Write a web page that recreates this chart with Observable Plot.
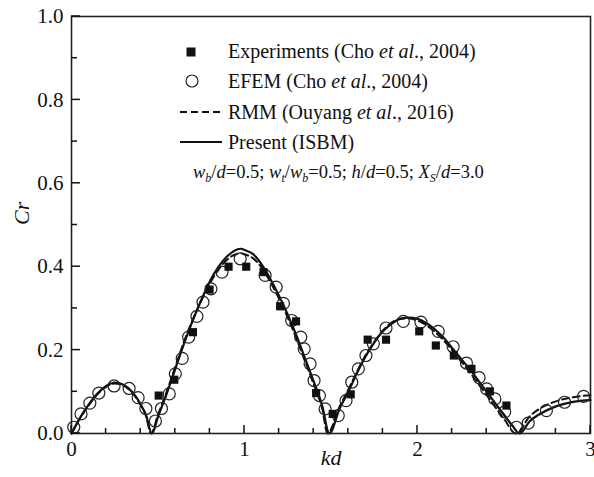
<!DOCTYPE html>
<html><head><meta charset="utf-8">
<script src="https://cdn.jsdelivr.net/npm/d3@7"></script>
<script src="https://cdn.jsdelivr.net/npm/@observablehq/plot@0.6"></script>
<style>
body{margin:0;background:#fff;}
#wrap{position:relative;width:594px;height:477px;font-family:"Liberation Serif","Times New Roman",serif;color:#111;overflow:hidden;}
#legend{position:absolute;left:0;top:0;width:594px;height:477px;pointer-events:none;}
.lt{position:absolute;font-size:20px;line-height:20px;white-space:nowrap;}
.lp{font-size:18.5px;}
.lt sub{font-size:12px;vertical-align:-4px;line-height:0;}
</style>
</head><body>
<div id="wrap"></div>
<script>
// ---- data ----
const efemKd = [0.013,0.055,0.106,0.158,0.246,0.333,0.385,0.43,0.485,0.52,0.565,0.60,0.64,0.677,0.725,0.76,0.806,0.87,0.975,1.119,1.183,1.225,1.273,1.325,1.345,1.379,1.402,1.433,1.466,1.542,1.587,1.62,1.658,1.702,1.745,1.818,1.918,2.02,2.12,2.206,2.283,2.356,2.40,2.447,2.504,2.572,2.64,2.745,2.85,2.96];
const efemCr = [0.015,0.047,0.073,0.097,0.114,0.108,0.086,0.060,0.030,0.060,0.095,0.143,0.180,0.231,0.281,0.315,0.347,0.387,0.419,0.379,0.351,0.312,0.271,0.231,0.203,0.167,0.127,0.091,0.059,0.043,0.079,0.123,0.155,0.187,0.215,0.253,0.269,0.267,0.245,0.208,0.169,0.134,0.107,0.083,0.052,0.015,0.025,0.055,0.075,0.089];
const expKd = [0.504,0.594,0.702,0.798,0.908,1.01,1.11,1.206,1.298,1.414,1.51,1.614,1.712,1.818,2.01,2.106,2.21,2.312,2.418,2.514];
const expCr = [0.091,0.129,0.243,0.345,0.400,0.400,0.387,0.305,0.269,0.097,0.047,0.094,0.225,0.225,0.245,0.211,0.187,0.155,0.101,0.067];
const isbmKd = [0,0.05,0.1,0.15,0.2,0.25,0.3,0.35,0.4,0.43,0.465,0.5,0.55,0.6,0.65,0.7,0.75,0.8,0.85,0.9,0.95,0.98,1.0,1.05,1.1,1.15,1.2,1.25,1.3,1.35,1.4,1.45,1.49,1.55,1.6,1.65,1.7,1.75,1.8,1.85,1.9,1.95,2.0,2.05,2.1,2.15,2.2,2.25,2.3,2.35,2.4,2.45,2.5,2.55,2.59,2.65,2.7,2.8,2.9,3.0];
const isbmCr = [0,0.038,0.07,0.096,0.114,0.122,0.117,0.1,0.07,0.045,0,0.04,0.095,0.155,0.215,0.27,0.32,0.365,0.4,0.425,0.44,0.443,0.44,0.43,0.405,0.37,0.33,0.285,0.235,0.18,0.125,0.065,0,0.06,0.1,0.145,0.185,0.218,0.245,0.263,0.275,0.278,0.275,0.265,0.25,0.23,0.205,0.18,0.155,0.128,0.1,0.072,0.045,0.018,0,0.03,0.045,0.065,0.076,0.08];
const rmmKd = [0,0.05,0.1,0.15,0.2,0.25,0.3,0.35,0.4,0.43,0.46,0.5,0.55,0.6,0.65,0.7,0.75,0.8,0.85,0.9,0.95,0.98,1.0,1.05,1.1,1.15,1.2,1.25,1.3,1.35,1.4,1.45,1.48,1.55,1.6,1.65,1.7,1.75,1.8,1.85,1.9,1.95,2.0,2.05,2.1,2.15,2.2,2.25,2.3,2.35,2.4,2.45,2.5,2.57,2.65,2.7,2.8,2.9,3.0];
const rmmCr = [0,0.037,0.068,0.094,0.112,0.12,0.115,0.098,0.068,0.043,0,0.045,0.1,0.16,0.22,0.272,0.318,0.36,0.393,0.417,0.43,0.432,0.43,0.42,0.397,0.363,0.323,0.278,0.228,0.173,0.118,0.058,0,0.065,0.105,0.148,0.188,0.22,0.247,0.266,0.275,0.276,0.271,0.26,0.244,0.224,0.2,0.174,0.148,0.12,0.092,0.063,0.035,0,0.042,0.058,0.077,0.087,0.092];
const xMajorTicks = [0,1,2,3];
const xMinorTicks = [0.2,0.4,0.6,0.8,1.2,1.4,1.6,1.8,2.2,2.4,2.6,2.8];
const yMajorTicks = [0,0.2,0.4,0.6,0.8,1.0];
const yMinorTicks = [0.1,0.3,0.5,0.7,0.9];
const xLabel = "kd", yLabel = "Cr";

const toRows = (xs, ys) => xs.map((x, i) => ({x, y: ys[i]}));
const ink = "#111";
const W = 594, H = 477, ML = 71, MR = 4, MT = 16, MB = 44;
const xDom = [0, 3], yDom = [0, 1];

const plot = Plot.plot({
  width: W, height: H,
  marginLeft: ML, marginRight: MR, marginTop: MT, marginBottom: MB,
  style: {fontFamily: '"Liberation Serif","Times New Roman",serif', fontSize: "21px", background: "white", color: ink, overflow: "visible"},
  x: {domain: xDom},
  y: {domain: yDom},
  marks: [
    Plot.line(toRows(rmmKd, rmmCr), {x: "x", y: "y", stroke: ink, strokeWidth: 2, strokeDasharray: "7,4", curve: "monotone-x"}),
    Plot.line(toRows(isbmKd, isbmCr), {x: "x", y: "y", stroke: ink, strokeWidth: 2.2, curve: "monotone-x"}),
    Plot.dot(toRows(efemKd, efemCr), {x: "x", y: "y", r: 6, stroke: "#222", strokeWidth: 1.2, fill: "none"}),
    Plot.dot(toRows(expKd, expCr), {x: "x", y: "y", symbol: "square", r: 4.6, fill: ink, stroke: "none"}),
    Plot.axisX(xMajorTicks, {tickSize: 0, tickPadding: 8, tickFormat: d3.format("d"), label: null, fill: ink}),
    Plot.axisY(yMajorTicks, {tickSize: 0, tickPadding: 8, tickFormat: d3.format(".1f"), label: null, fill: ink}),
    Plot.frame({stroke: "#222", strokeWidth: 1.6}),
    Plot.text([xLabel], {text: d => d, frameAnchor: "bottom", dy: 31, fontStyle: "italic", fontSize: 22, fill: ink}),
    Plot.text([yLabel], {text: d => d, frameAnchor: "left", dx: -50, rotate: -90, fontStyle: "italic", fontSize: 22, fill: ink})
  ]
});
const wrap = document.getElementById("wrap");
wrap.appendChild(plot);

// inward tick marks placed through Plot's own scales
const sx = plot.scale("x"), sy = plot.scale("y");
const x0 = sx.apply(xDom[0]), y0 = sy.apply(yDom[0]);
const tg = d3.select(plot).append("g").attr("stroke", ink).attr("stroke-width", 1.5);
const addX = (ticks, len) => ticks.forEach(t => tg.append("line").attr("x1", sx.apply(t)).attr("x2", sx.apply(t)).attr("y1", y0).attr("y2", y0 - len));
const addY = (ticks, len) => ticks.forEach(t => tg.append("line").attr("y1", sy.apply(t)).attr("y2", sy.apply(t)).attr("x1", x0).attr("x2", x0 + len));
addX(xMajorTicks, 8); addX(xMinorTicks, 5);
addY(yMajorTicks, 9); addY(yMinorTicks, 6);

// ---- legend overlay ----
const legend = document.createElement("div");
legend.id = "legend";
legend.innerHTML = `
<svg width="594" height="477" style="position:absolute;left:0;top:0">
  <rect x="186.5" y="47.5" width="9" height="9" fill="${ink}"/>
  <circle cx="192" cy="81" r="6" fill="none" stroke="#222" stroke-width="1.2"/>
  <line x1="180" y1="112" x2="224" y2="112" stroke="${ink}" stroke-width="2" stroke-dasharray="7,4"/>
  <line x1="180" y1="142" x2="222" y2="142" stroke="${ink}" stroke-width="2.2"/>
</svg>
<div class="lt" style="left:228px;top:41px">Experiments (Cho <i>et al</i>., 2004)</div>
<div class="lt" style="left:228px;top:71px">EFEM (Cho <i>et al</i>., 2004)</div>
<div class="lt" style="left:228px;top:102px">RMM (Ouyang <i>et al</i>., 2016)</div>
<div class="lt" style="left:228px;top:132px">Present (ISBM)</div>
<div class="lt lp" style="left:193px;top:162px"><i>w</i><sub><i>b</i></sub>/<i>d</i>=0.5; <i>w</i><sub><i>t</i></sub>/<i>w</i><sub><i>b</i></sub>=0.5; <i>h</i>/<i>d</i>=0.5; <i>X</i><sub><i>S</i></sub>/<i>d</i>=3.0</div>
`;
wrap.appendChild(legend);
</script>
</body></html>
